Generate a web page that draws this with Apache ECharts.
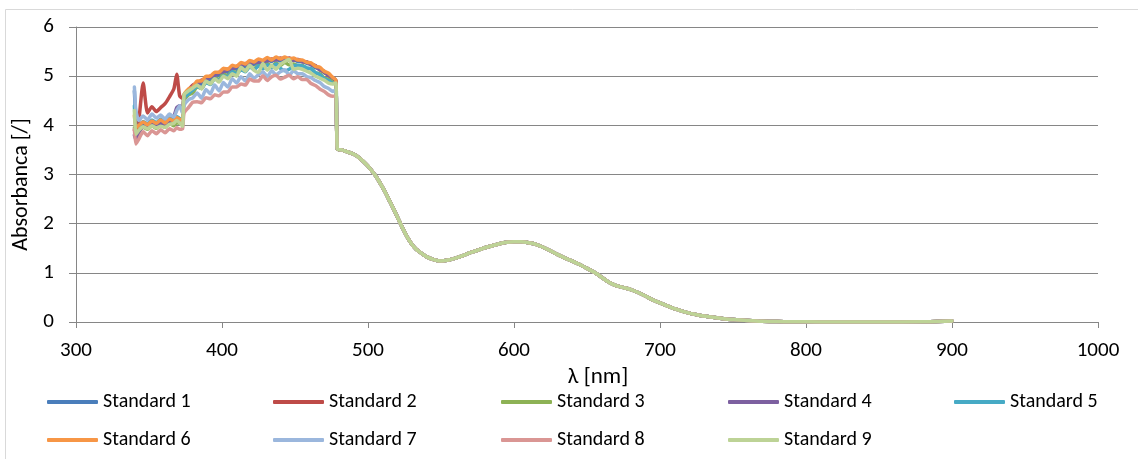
<!DOCTYPE html>
<html>
<head>
<meta charset="utf-8">
<script src="https://cdn.jsdelivr.net/npm/echarts@6/dist/echarts.min.js"></script>
<style>
  html, body { margin: 0; padding: 0; background: #fff; }
  #chart { width: 1138px; height: 459px; }
</style>
</head>
<body>
<div id="chart"></div>
<script>
// Wavelength grid of the noisy UV/blue region (nm)
const uvWavelengths = [340, 341, 343, 346, 349, 352, 355, 358, 361, 364, 367, 369, 371, 373, 374,
  377, 380, 383, 386, 389, 392, 395, 398, 401, 404, 407, 410, 413, 416, 419, 422, 425, 428, 431,
  434, 437, 440, 443, 446, 449, 452, 455, 458, 461, 464, 467, 470, 473, 476, 478];

// Absorbance of each standard over the UV/blue region
const std1 = [4.70, 4.20, 3.95, 4.05, 3.98, 4.08, 4.02, 4.06, 4.04, 4.12, 4.06, 4.14, 4.12, 4.08, 4.58,
  4.70, 4.74, 4.86, 4.84, 4.96, 4.93, 5.04, 5.01, 5.12, 5.08, 5.18, 5.14, 5.23, 5.20, 5.28, 5.24, 5.31, 5.27, 5.33,
  5.30, 5.35, 5.31, 5.35, 5.33, 5.34, 5.30, 5.31, 5.26, 5.24, 5.17, 5.15, 5.07, 5.03, 4.94, 4.90];
const std2 = [3.90, 3.85, 4.10, 4.86, 4.25, 4.38, 4.28, 4.36, 4.44, 4.58, 4.74, 5.04, 4.60, 4.55, 4.62,
  4.72, 4.82, 4.86, 4.92, 4.94, 5.00, 5.02, 5.08, 5.10, 5.14, 5.16, 5.20, 5.22, 5.26, 5.26, 5.29, 5.29, 5.32, 5.32,
  5.35, 5.34, 5.37, 5.35, 5.37, 5.33, 5.34, 5.30, 5.29, 5.24, 5.21, 5.13, 5.09, 5.01, 4.97, 4.90];
const std3 = [3.95, 3.80, 3.88, 3.96, 3.92, 3.99, 3.94, 4.01, 3.96, 4.04, 3.99, 4.06, 4.04, 4.02, 4.50,
  4.62, 4.66, 4.78, 4.75, 4.88, 4.85, 4.97, 4.93, 5.05, 5.00, 5.11, 5.06, 5.16, 5.11, 5.21, 5.15, 5.23, 5.18, 5.26,
  5.20, 5.27, 5.22, 5.28, 5.23, 5.25, 5.21, 5.22, 5.16, 5.15, 5.07, 5.05, 4.96, 4.94, 4.86, 4.84];
const std4 = [3.80, 3.72, 3.85, 3.98, 3.94, 4.03, 3.97, 4.05, 3.99, 4.09, 4.18, 4.36, 4.40, 4.30, 4.60,
  4.68, 4.80, 4.83, 4.90, 4.93, 4.99, 5.01, 5.07, 5.09, 5.13, 5.15, 5.19, 5.21, 5.24, 5.25, 5.28, 5.28, 5.31, 5.31,
  5.33, 5.33, 5.35, 5.34, 5.36, 5.32, 5.34, 5.29, 5.29, 5.23, 5.21, 5.13, 5.10, 5.01, 4.97, 4.92];
const std5 = [4.40, 4.00, 3.98, 4.08, 4.03, 4.11, 4.05, 4.13, 4.07, 4.15, 4.11, 4.18, 4.14, 4.12, 4.55,
  4.64, 4.72, 4.79, 4.75, 4.87, 4.83, 4.95, 4.91, 5.01, 4.98, 5.09, 5.05, 5.13, 5.09, 5.19, 5.13, 5.21, 5.15, 5.23,
  5.17, 5.25, 5.16, 5.11, 5.14, 5.21, 5.22, 5.21, 5.17, 5.15, 5.07, 5.03, 4.95, 4.91, 4.85, 4.86];
const std6 = [4.20, 3.95, 4.00, 4.07, 4.01, 4.09, 4.04, 4.11, 4.05, 4.13, 4.09, 4.16, 4.12, 4.10, 4.62,
  4.74, 4.78, 4.90, 4.90, 5.00, 5.00, 5.08, 5.08, 5.16, 5.14, 5.22, 5.20, 5.28, 5.25, 5.32, 5.29, 5.35, 5.32, 5.38,
  5.33, 5.39, 5.35, 5.39, 5.35, 5.37, 5.33, 5.33, 5.28, 5.27, 5.20, 5.18, 5.10, 5.06, 4.97, 4.92];
const std7 = [4.78, 4.30, 4.10, 4.19, 4.11, 4.23, 4.15, 4.21, 4.13, 4.23, 4.17, 4.30, 4.40, 4.25, 4.40,
  4.52, 4.56, 4.66, 4.55, 4.73, 4.64, 4.82, 4.70, 4.87, 4.78, 4.95, 4.86, 4.99, 4.90, 5.05, 4.96, 5.03, 5.09, 4.99,
  5.11, 5.03, 5.09, 5.13, 5.02, 5.11, 5.05, 5.05, 4.99, 4.97, 4.91, 4.87, 4.79, 4.75, 4.69, 4.72];
const std8 = [3.92, 3.62, 3.72, 3.87, 3.79, 3.89, 3.83, 3.91, 3.85, 3.93, 3.89, 3.95, 3.92, 3.93, 4.25,
  4.36, 4.47, 4.48, 4.46, 4.56, 4.54, 4.62, 4.60, 4.68, 4.68, 4.78, 4.78, 4.84, 4.82, 4.94, 4.90, 4.90, 5.01, 4.91,
  4.99, 5.02, 4.94, 4.98, 5.02, 4.95, 4.99, 4.93, 4.93, 4.85, 4.81, 4.74, 4.69, 4.62, 4.59, 4.60];
const std9 = [4.30, 3.82, 3.90, 3.97, 3.93, 3.99, 3.95, 3.98, 3.96, 4.02, 4.04, 4.10, 4.05, 3.98, 4.62,
  4.70, 4.76, 4.82, 4.74, 4.90, 4.84, 4.95, 4.88, 5.00, 4.95, 5.05, 5.00, 5.18, 5.10, 5.22, 5.12, 5.08, 5.26, 5.12,
  5.22, 5.14, 5.24, 5.30, 5.34, 5.14, 5.16, 5.14, 5.10, 5.06, 5.00, 4.96, 4.92, 4.86, 4.84, 4.86];

// Visible/near-IR region, where all standards coincide
const visWavelengths = [479, 482, 485, 488, 491, 494, 497, 500, 503, 506, 509, 512, 515, 518, 521, 524,
  527, 530, 533, 536, 540, 545, 550, 555, 560, 565, 570, 575, 580, 585, 590, 595, 600, 605, 610, 615,
  620, 625, 630, 635, 640, 645, 650, 655, 660, 665, 670, 675, 680, 685, 690, 695, 700, 705, 710, 715,
  720, 725, 730, 735, 740, 745, 750, 760, 770, 780, 790, 800, 820, 850, 880, 890, 900];
const visAbsorbance = [3.52, 3.50, 3.47, 3.44, 3.40, 3.34, 3.26, 3.17, 3.06, 2.94, 2.79, 2.63, 2.45, 2.27,
  2.08, 1.89, 1.72, 1.58, 1.48, 1.41, 1.33, 1.27, 1.24, 1.26, 1.30, 1.35, 1.41, 1.46, 1.51, 1.55, 1.59,
  1.62, 1.63, 1.63, 1.61, 1.58, 1.52, 1.45, 1.37, 1.30, 1.24, 1.17, 1.09, 1.01, 0.91, 0.81, 0.74, 0.70,
  0.66, 0.60, 0.53, 0.45, 0.39, 0.33, 0.27, 0.22, 0.18, 0.15, 0.12, 0.10, 0.08, 0.06, 0.05, 0.03, 0.015,
  0.01, 0.005, 0.003, 0.0, 0.0, 0.005, 0.01, 0.02];

const seriesNames = ['Standard 1', 'Standard 2', 'Standard 3', 'Standard 4', 'Standard 5',
  'Standard 6', 'Standard 7', 'Standard 8', 'Standard 9'];
const seriesValues = [std1, std2, std3, std4, std5, std6, std7, std8, std9];
const seriesColors = ['#4A7EBB', '#BE4B48', '#8DB255', '#7D60A0', '#46AAC5',
  '#F79646', '#9BB7DD', '#DA9694', '#BDD396'];

const xTicks = { min: 300, max: 1000, interval: 100 };
const yTicks = { min: 0, max: 6, interval: 1 };

const FONT = 'Carlito, Calibri, Lato, sans-serif';
const AXIS_GRAY = '#868686';

function buildData(values) {
  const pts = uvWavelengths.map((w, i) => [w, values[i]]);
  visWavelengths.forEach((w, i) => pts.push([w, visAbsorbance[i]]));
  return pts;
}

// One legend per entry so the two rows line up in fixed columns
const legendCols = [47, 273, 501, 728, 954];
const legendRows = [392, 430];
const legends = seriesNames.map((name, i) => ({
  data: [name],
  left: legendCols[i % 5],
  top: legendRows[Math.floor(i / 5)],
  padding: 0,
  itemWidth: 51,
  itemHeight: 4,
  itemGap: 0,
  icon: 'roundRect',
  selectedMode: false,
  textStyle: { fontFamily: FONT, fontSize: 20, color: '#000', padding: [0, 0, 0, 0] }
}));

const chart = echarts.init(document.getElementById('chart'), null, { renderer: 'canvas' });
chart.setOption({
  animation: false,
  backgroundColor: '#fff',
  graphic: [{
    type: 'rect',
    shape: { x: 5.5, y: 9.5, width: 1200, height: 500 },
    style: { fill: 'none', stroke: '#D9D9D9', lineWidth: 1 },
    silent: true,
    z: -10
  }],
  grid: { left: 76, right: 40, top: 27, bottom: 137 },
  legend: legends,
  xAxis: {
    type: 'value',
    min: xTicks.min, max: xTicks.max, interval: xTicks.interval,
    name: 'λ [nm]',
    nameLocation: 'middle',
    nameGap: 37,
    nameTextStyle: { fontFamily: FONT, fontSize: 23, color: '#000', padding: [0, 0, 0, 22] },
    axisLine: { show: true, onZero: false, lineStyle: { color: AXIS_GRAY, width: 1 } },
    axisTick: { show: true, inside: false, length: 6, lineStyle: { color: AXIS_GRAY } },
    axisLabel: { fontFamily: FONT, fontSize: 21, color: '#000', margin: 18, formatter: v => String(v) },
    splitLine: { show: false }
  },
  yAxis: {
    type: 'value',
    min: yTicks.min, max: yTicks.max, interval: yTicks.interval,
    name: 'Absorbanca [/]',
    nameLocation: 'middle',
    nameGap: 35,
    nameRotate: 90,
    nameTextStyle: { fontFamily: FONT, fontSize: 22, color: '#000', padding: [0, 20, 0, 0] },
    axisLine: { show: true, lineStyle: { color: AXIS_GRAY, width: 1 } },
    axisTick: { show: true, inside: false, length: 7, lineStyle: { color: AXIS_GRAY } },
    axisLabel: { fontFamily: FONT, fontSize: 21, color: '#000', margin: 22, formatter: v => String(v) },
    splitLine: { show: true, lineStyle: { color: AXIS_GRAY, width: 1 } }
  },
  series: seriesNames.map((name, i) => ({
    name: name,
    type: 'line',
    data: buildData(seriesValues[i]),
    showSymbol: false,
    symbol: 'none',
    smooth: 0.2,
    color: seriesColors[i],
    lineStyle: { width: 3.5, color: seriesColors[i], cap: 'round', join: 'round' },
    z: 2 + i
  }))
});
</script>
</body>
</html>
